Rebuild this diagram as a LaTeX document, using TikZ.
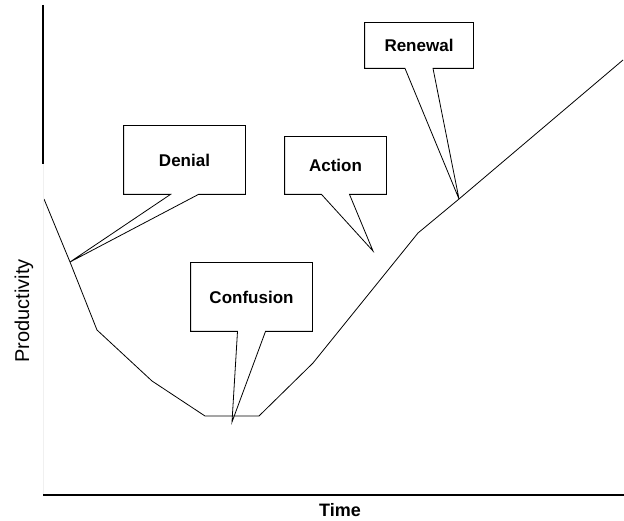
\documentclass[tikz,border=0pt]{standalone}
\usepackage{fontspec}
\setmainfont{Liberation Sans}
\usetikzlibrary{calc}

\tikzset{
  stage/.style={inner sep=0pt,font=\bfseries\fontsize{17}{20}\selectfont},
  axis/.style={line width=1.2pt}
}

\begin{document}
\begin{tikzpicture}[x=1pt,y=-1pt,line width=0.8pt]
\useasboundingbox (0,0) rectangle (624,521);

% productivity curve
\coordinate (p0) at (44,199);
\coordinate (p1) at (70,262);
\coordinate (p2) at (97,330);
\coordinate (p3) at (152,381);
\coordinate (p4) at (205,416);
\coordinate (p5) at (259,416);
\coordinate (p6) at (313,363);
\coordinate (p7) at (418,233);
\coordinate (p8) at (459,199);
\coordinate (p9) at (623,60);
\coordinate (ctip) at (232,422);
\coordinate (atip) at (373,251);

\draw (p0) -- (p1) -- (p2) -- (p3) -- (p4) -- (p5) -- (p6) -- (p7) -- (p8) -- (p9);

% axes
\coordinate (o) at (43,495);
\coordinate (ytop) at (43,5);
\coordinate (ymid) at (43,164);
\coordinate (xend) at (624,495);
\draw[axis] (ytop) -- (ymid);
\draw[gray!12] (ymid) -- (o);
\draw[axis] (o) -- (xend);

\node[inner sep=1pt,font=\bfseries\fontsize{18}{21}\selectfont] (xlabel) at (340,510.5) {Time};
\node[rotate=90,font=\fontsize{20}{24}\selectfont] (ylabel) at (24,311) {Productivity};

% stage boxes
\node[stage,minimum width=121pt,minimum height=68pt] (denial) at (184.5,160) {Denial};
\node[stage,minimum width=101pt,minimum height=57pt] (action) at (335.5,165.5) {Action};
\node[stage,minimum width=108pt,minimum height=45pt] (renewal) at (419,45.5) {Renewal};
\node[stage,minimum width=121pt,minimum height=68pt] (confusion) at (251.5,297) {Confusion};

\foreach \b/\t in {denial/p1,action/atip,renewal/p8,confusion/ctip}
  \draw (\b.south west) -- ($(\b.south)+(-14,0)$) -- (\t) -- ($(\b.south)+(14,0)$)
    -- (\b.south east) -- (\b.north east) -- (\b.north west) -- cycle;
\end{tikzpicture}
\end{document}
